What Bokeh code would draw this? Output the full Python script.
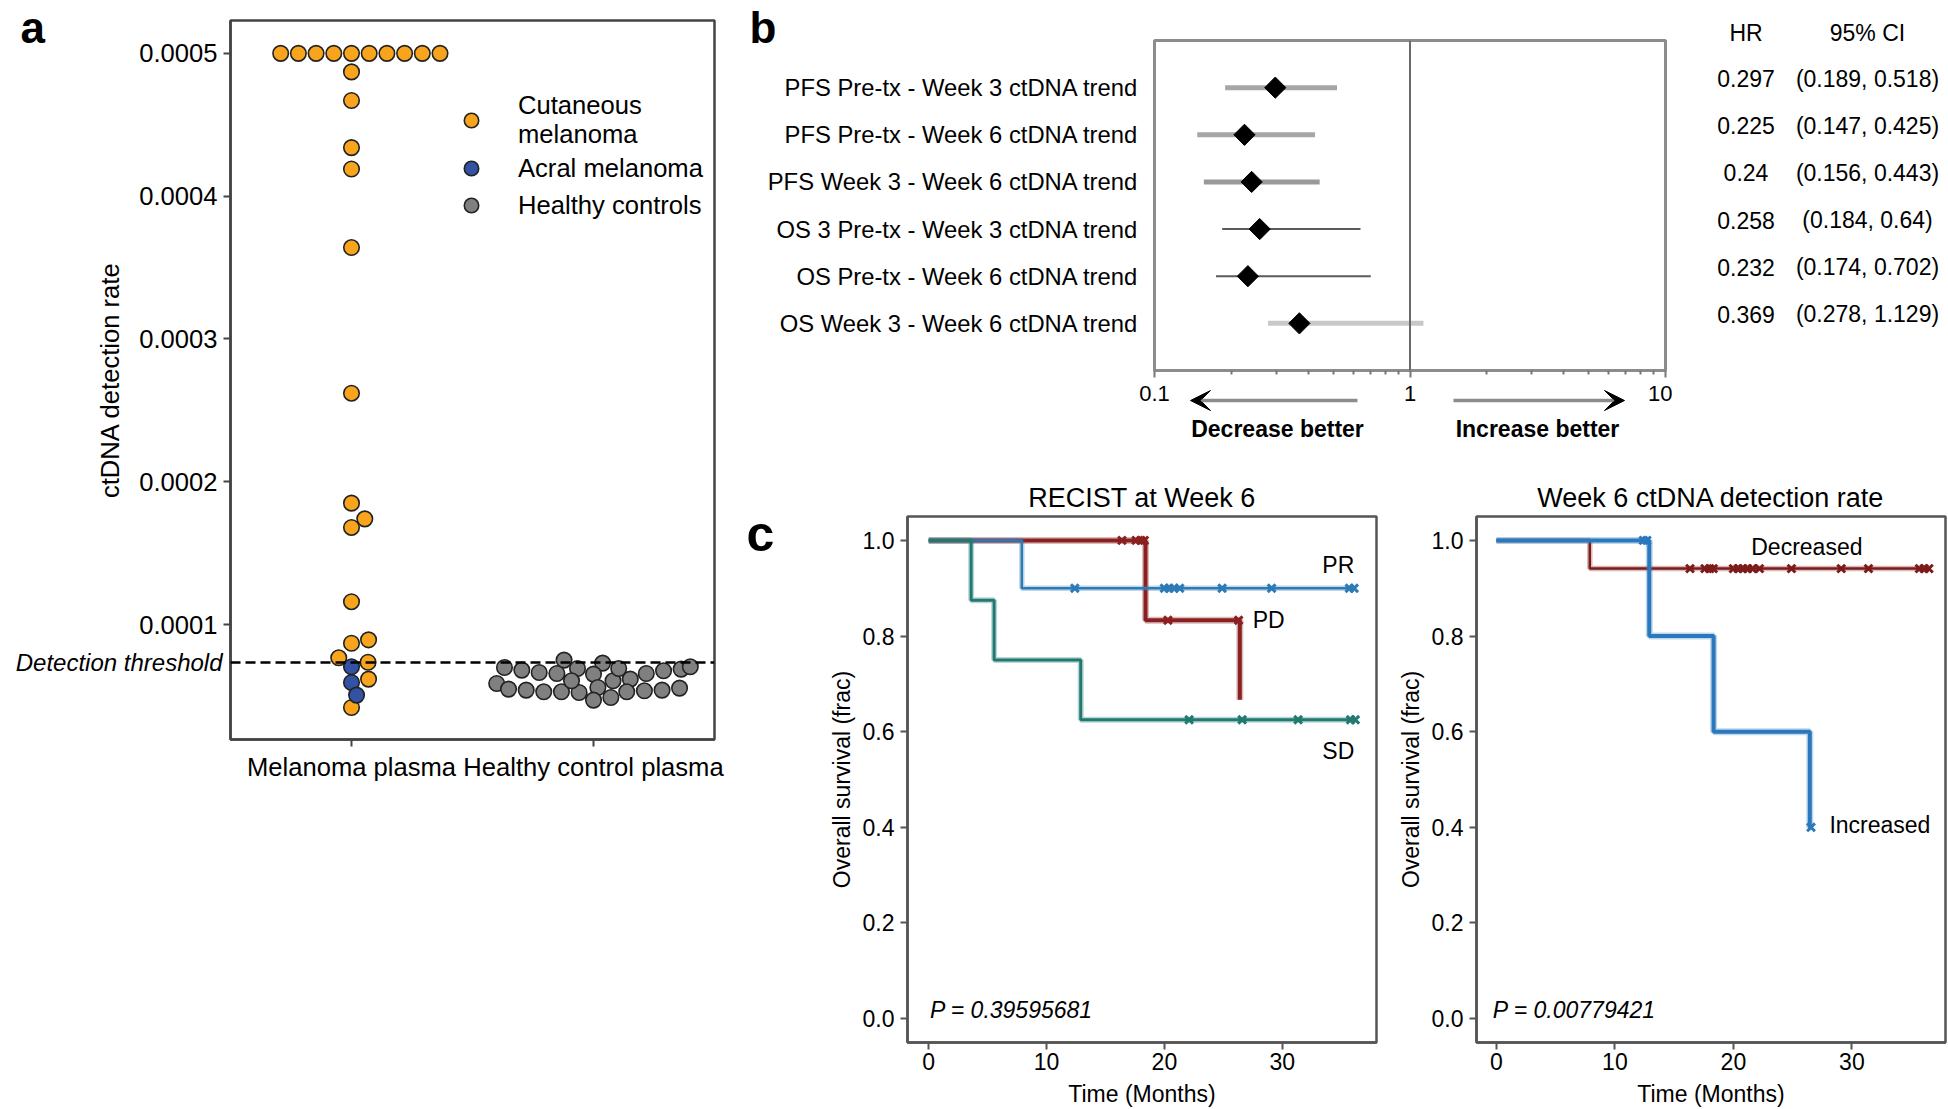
import math
import numpy as np
from bokeh.plotting import figure
from bokeh.layouts import row, column
from bokeh.models import (Range1d, FixedTicker, BasicTickFormatter, PrintfTickFormatter, Span, Label,
                          Legend, LegendItem, Arrow, VeeHead, AllLabels)
from bokeh.core.properties import value
from bokeh.embed import file_html
from bokeh.resources import INLINE

FONT = "Liberation Sans"

# ======================= DATA =======================
# ---- panel a : ctDNA detection rate swarm ----
A_CATEGORIES = ["Melanoma plasma", "Healthy control plasma"]
A_YTICKS = [0.0001, 0.0002, 0.0003, 0.0004, 0.0005]
A_THRESHOLD = 0.0000735
A_YLABEL = "ctDNA detection rate"
A_THRESHOLD_LABEL = "Detection threshold"
A_LEGEND = ["Cutaneous\nmelanoma", "Acral melanoma", "Healthy controls"]
A_CUTANEOUS = [0.0005] * 10 + [0.000487, 0.000467, 0.000434, 0.000419, 0.000364, 0.000262,
                               0.000185, 0.000174, 0.000168, 0.000116, 0.0000893, 0.0000869,
                               0.0000767, 0.0000736, 0.0000618, 0.0000419]
A_ACRAL = [0.0000704, 0.0000594, 0.0000506]
A_HEALTHY = [0.0000751, 0.0000699, 0.0000692, 0.0000676, 0.0000657, 0.0000618, 0.0000730,
             0.0000606, 0.0000653, 0.0000657, 0.0000681, 0.0000688, 0.0000692, 0.0000704,
             0.0000587, 0.0000559, 0.0000541, 0.0000529, 0.0000524, 0.0000489, 0.0000471,
             0.0000529, 0.0000529, 0.0000536, 0.0000541, 0.0000555, 0.0000606, 0.0000664,
             0.0000548]

# ---- panel b : forest plot ----
B_LABELS = ["PFS Pre-tx - Week 3 ctDNA trend", "PFS Pre-tx - Week 6 ctDNA trend",
            "PFS Week 3 - Week 6 ctDNA trend", "OS 3 Pre-tx - Week 3 ctDNA trend",
            "OS Pre-tx - Week 6 ctDNA trend", "OS Week 3 - Week 6 ctDNA trend"]
B_HR = [0.297, 0.225, 0.24, 0.258, 0.232, 0.369]
B_LO = [0.189, 0.147, 0.156, 0.184, 0.174, 0.278]
B_HI = [0.518, 0.425, 0.443, 0.64, 0.702, 1.129]
B_XTICKS = [0.1, 1, 10]
B_XTICK_LABELS = ["0.1", "1", "10"]
B_HEADERS = ["HR", "95% CI"]
B_DIRECTIONS = ["Decrease better", "Increase better"]

# ---- panel c : Kaplan-Meier ----
C_XTICKS = [0, 10, 20, 30]
C_YTICKS = [0.0, 0.2, 0.4, 0.6, 0.8, 1.0]
C_XLABEL = "Time (Months)"
C_YLABEL = "Overall survival (frac)"

C1_TITLE = "RECIST at Week 6"
C1_P = "P = 0.39595681"
PR_EVENT_T = [7.9];               PR_EVENT_S = [0.9]
PR_CENSOR = [12.4, 20.0, 20.4, 20.8, 21.3, 24.9, 29.1, 35.7, 36.1]
PD_EVENT_T = [18.4, 26.4];        PD_EVENT_S = [0.833, 0.667]
PD_CENSOR = [16.4, 17.6, 18.0, 18.3, 20.3, 26.3]
SD_EVENT_T = [3.6, 5.55, 12.9];   SD_EVENT_S = [0.875, 0.75, 0.625]
SD_CENSOR = [22.1, 26.6, 31.35, 35.8, 36.2]

C2_TITLE = "Week 6 ctDNA detection rate"
C2_P = "P = 0.00779421"
DEC_EVENT_T = [7.88];             DEC_EVENT_S = [0.941]
DEC_CENSOR = [16.34, 17.6, 18.0, 18.3, 20.0, 20.4, 20.8, 21.2, 21.6, 22.2, 24.9, 29.1, 31.4,
              35.7, 36.1, 36.5]
INC_EVENT_T = [12.9, 18.33, 26.45]; INC_EVENT_S = [0.8, 0.6, 0.4]
INC_CENSOR = [12.4, 12.7, 26.55]

# ======================= STYLE / LAYOUT =======================
ORANGE, BLUE, GREY = "#F8A51D", "#3352A3", "#808080"
PR_C, PD_C, SD_C = "#2c7bb6", "#8b2020", "#207a72"
DEC_C, INC_C = "#7d1a1a", "#2a78bd"
PAGE_W, PAGE_H = 1948, 1109


def make_fig(left, top, w, h, fr, **kw):
    p = figure(width=w, height=h, output_backend="svg", toolbar_location=None,
               min_border_left=int(round(fr["L"] - left)),
               min_border_right=int(round(left + w - fr["R"])),
               min_border_top=int(round(fr["T"] - top)),
               min_border_bottom=int(round(top + h - fr["B"])), **kw)
    p.xgrid.visible = False
    p.ygrid.visible = False
    p.background_fill_color = "white"
    p.border_fill_color = "white"
    return p


def style_axis(ax, size, color="#444444", label_size=None):
    ax.major_label_text_font = FONT
    ax.major_label_text_font_size = size
    ax.major_label_text_color = "black"
    ax.axis_label_text_font = FONT
    ax.axis_label_text_font_style = "normal"
    ax.axis_label_text_color = "black"
    ax.axis_label_text_font_size = label_size or size
    ax.minor_tick_line_color = None
    ax.major_tick_in = 0
    ax.major_tick_out = 7
    ax.major_tick_line_color = color
    ax.major_tick_line_width = 2
    ax.axis_line_color = color
    ax.axis_line_width = 2.5
    ax.major_label_policy = AllLabels()


def label(p, x, y, text, size, style="normal", align="left", baseline="middle", color="black"):
    p.add_layout(Label(x=x, y=y, text=text, text_font=FONT, text_font_size=size,
                       text_font_style=style, text_align=align, text_baseline=baseline,
                       text_color=color))


def swarm(values, center, ppx, ppy, diam, half_width):
    vals = np.asarray(values, dtype=float)
    order = np.argsort(vals, kind="stable")
    placed = []
    xs = np.zeros(len(vals))
    for idx in order:
        y = vals[idx] * ppy
        neigh = [(nx, ny) for nx, ny in placed if abs(ny - y) < diam]
        cands = [0.0]
        for nx, ny in neigh:
            dx = math.sqrt(max(diam ** 2 - (y - ny) ** 2, 0.0)) * 1.05
            cands += [nx - dx, nx + dx]
        cands.sort(key=lambda c: (abs(c), -c))
        chosen = cands[-1]
        for c in cands:
            if all((c - nx) ** 2 + (y - ny) ** 2 >= diam ** 2 * 0.999 for nx, ny in neigh):
                chosen = c
                break
        placed.append((chosen, y))
        xs[idx] = chosen
    return center + np.clip(xs / ppx, -half_width, half_width)


# ======================= PANEL A =======================
FA = dict(L=230, R=714, T=20, B=739, x0=-0.5, x1=1.5, y0=0.0000195, y1=0.000523)
pa = make_fig(0, 0, 730, 790, FA,
              x_range=Range1d(FA["x0"], FA["x1"]), y_range=Range1d(FA["y0"], FA["y1"]))
pa.outline_line_color = "#444444"
pa.outline_line_width = 2.5

ppx = (FA["R"] - FA["L"]) / (FA["x1"] - FA["x0"])
ppy_a = (FA["B"] - FA["T"]) / (FA["y1"] - FA["y0"])
mel_vals = A_CUTANEOUS + A_ACRAL
mel_x = swarm(mel_vals, 0, ppx, ppy_a * 1.3, 16.86, 0.4)
hc_x = swarm(A_HEALTHY, 1, ppx, ppy_a * 1.3, 16.86, 0.4)
nc = len(A_CUTANEOUS)
pt_kw = dict(size=15.5, line_color="#222222", line_width=1.6)
r_cut = pa.scatter(mel_x[:nc], A_CUTANEOUS, fill_color=ORANGE, **pt_kw)
r_acr = pa.scatter(mel_x[nc:], A_ACRAL, fill_color=BLUE, **pt_kw)
r_hc = pa.scatter(hc_x, A_HEALTHY, fill_color=GREY, **pt_kw)

pa.add_layout(Span(location=A_THRESHOLD, dimension="width", line_color="black",
                   line_width=2.5, line_dash="10 5"))

pa.yaxis.ticker = FixedTicker(ticks=A_YTICKS)
pa.yaxis.formatter = BasicTickFormatter(use_scientific=False, precision=4)
pa.yaxis.axis_label = A_YLABEL
pa.yaxis.axis_label_standoff = 12
pa.xaxis.ticker = FixedTicker(ticks=[0, 1])
pa.xaxis.major_label_overrides = {i: c for i, c in enumerate(A_CATEGORIES)}
for ax in (pa.xaxis[0], pa.yaxis[0]):
    style_axis(ax, "25.6px")
    ax.major_label_standoff = 6

legend = Legend(items=[LegendItem(label=A_LEGEND[0], renderers=[r_cut]),
                       LegendItem(label=A_LEGEND[1], renderers=[r_acr]),
                       LegendItem(label=A_LEGEND[2], renderers=[r_hc])],
                location=(222, 516), padding=0, margin=0, spacing=1,
                glyph_width=38, glyph_height=36, label_standoff=28,
                label_text_font=FONT, label_text_font_size="25.6px",
                label_text_color="black", label_text_line_height=1.2,
                background_fill_alpha=0, border_line_color=None)
pa.add_layout(legend)

# ======================= PANEL B =======================
FB = dict(L=1154, R=1665, T=40, B=370, x0=0.1, x1=10, y0=7, y1=0)
pb = make_fig(730, 0, 942, 458, FB, x_axis_type="log",
              x_range=Range1d(FB["x0"], FB["x1"]), y_range=Range1d(FB["y0"], FB["y1"]))
pb.outline_line_color = "#8c8c8c"
pb.outline_line_width = 3

rows = list(range(1, len(B_LABELS) + 1))
line_colors = ["#a6a6a6", "#a6a6a6", "#999999", "#5a5a5a", "#5a5a5a", "#c8c8c8"]
line_widths = [5, 5, 5, 2, 2, 5]
pb.add_layout(Span(location=1, dimension="height", line_color="#6b6b6b", line_width=2))
pb.segment(x0=B_LO, y0=rows, x1=B_HI, y1=rows, line_color=line_colors, line_width=line_widths)
pb.scatter(B_HR, rows, marker="square", angle=math.pi / 4, size=15,
           fill_color="black", line_color="black")

pb.yaxis.ticker = FixedTicker(ticks=rows)
pb.yaxis.major_label_overrides = {r: l for r, l in zip(rows, B_LABELS)}
style_axis(pb.yaxis[0], "23.8px")
pb.yaxis.major_tick_out = 0
pb.yaxis.axis_line_color = None
pb.yaxis.major_label_standoff = 16

minor = [m * d for d in (0.1, 1) for m in range(2, 10)]
pb.xaxis.ticker = FixedTicker(ticks=B_XTICKS, minor_ticks=minor)
pb.xaxis.major_label_overrides = {t: s for t, s in zip(B_XTICKS, B_XTICK_LABELS)}
style_axis(pb.xaxis[0], "22px", color="#8c8c8c")
pb.xaxis.axis_line_width = 3
pb.xaxis.minor_tick_line_color = "#777777"
pb.xaxis.minor_tick_line_width = 2
pb.xaxis.minor_tick_out = 4
pb.xaxis.minor_tick_in = 0
pb.xaxis.major_tick_line_color = "#777777"
pb.xaxis.major_label_standoff = 8


# ======================= PANEL C =======================
def steps(ev_t, ev_s, censor):
    end = max(list(ev_t) + list(censor))
    return [0.0] + list(ev_t) + [end], [1.0] + list(ev_s) + [ev_s[-1]]


def surv_at(ev_t, ev_s, t):
    s = 1.0
    for tt, ss in zip(ev_t, ev_s):
        if tt <= t:
            s = ss
    return s


def km(p, ev_t, ev_s, censor, color, width):
    xs, ys = steps(ev_t, ev_s, censor)
    p.step(xs, ys, mode="after", line_color=color, line_width=width + 3, line_alpha=0.3)
    p.step(xs, ys, mode="after", line_color=color, line_width=width)
    p.scatter(censor, [surv_at(ev_t, ev_s, t) for t in censor], marker="x", size=11,
              line_color=color, line_width=3)


C_TOP, C_H = 458, 651


def km_fig(left, w, fr, title):
    p = make_fig(left, C_TOP, w, C_H, fr, x_range=Range1d(fr["x0"], fr["x1"]),
                 y_range=Range1d(fr["y0"], fr["y1"]))
    p.outline_line_color = "#555555"
    p.outline_line_width = 2.5
    p.title.text = title
    p.title.align = "center"
    p.title.text_font = FONT
    p.title.text_font_size = "27px"
    p.title.text_font_style = "normal"
    p.title.text_color = "black"
    p.title.standoff = 8
    p.xaxis.ticker = FixedTicker(ticks=C_XTICKS)
    p.yaxis.ticker = FixedTicker(ticks=C_YTICKS)
    p.yaxis.formatter = PrintfTickFormatter(format="%.1f")
    p.xaxis.axis_label = C_XLABEL
    p.yaxis.axis_label = C_YLABEL
    for ax in (p.xaxis[0], p.yaxis[0]):
        style_axis(ax, "23px", color="#555555")
    p.xaxis.major_label_standoff = 3
    p.xaxis.axis_label_standoff = 8
    p.yaxis.major_label_standoff = 6
    p.yaxis.axis_label_standoff = 5
    return p


F1 = dict(L=907, R=1376, T=516, B=1045, x0=-1.8, x1=38.0, y0=-0.05, y1=1.05)
pc1 = km_fig(730, 660, F1, C1_TITLE)
km(pc1, PD_EVENT_T, PD_EVENT_S, PD_CENSOR, PD_C, 4)
km(pc1, PR_EVENT_T, PR_EVENT_S, PR_CENSOR, PR_C, 2.5)
km(pc1, SD_EVENT_T, SD_EVENT_S, SD_CENSOR, SD_C, 3)
label(pc1, 33.4, 0.948, "PR", "23px")
label(pc1, 27.5, 0.834, "PD", "23px")
label(pc1, 33.4, 0.559, "SD", "23px")
label(pc1, 0.1, 0.019, C1_P, "23px", style="italic")

F2 = dict(L=1476, R=1945, T=516, B=1045, x0=-1.68, x1=37.9, y0=-0.05, y1=1.05)
pc2 = km_fig(1390, 558, F2, C2_TITLE)
km(pc2, DEC_EVENT_T, DEC_EVENT_S, DEC_CENSOR, DEC_C, 2.5)
km(pc2, INC_EVENT_T, INC_EVENT_S, INC_CENSOR, INC_C, 4)
label(pc2, 26.2, 0.987, "Decreased", "23px", align="center")
label(pc2, 28.1, 0.404, "Increased", "23px")
label(pc2, -0.3, 0.019, C2_P, "23px", style="italic")

# ============ overlay for text that sits outside the plot frames ============
ov = figure(width=PAGE_W, height=PAGE_H, x_range=Range1d(0, PAGE_W), y_range=Range1d(PAGE_H, 0),
            min_border=0, x_axis_location=None, y_axis_location=None, outline_line_color=None,
            output_backend="svg", toolbar_location=None,
            background_fill_alpha=0, border_fill_alpha=0,
            styles={"position": "absolute", "left": "0px", "top": "0px",
                    "pointer-events": "none"})
ov.xgrid.visible = False
ov.ygrid.visible = False
ov.background_fill_color = None
ov.border_fill_color = None


def otext(xs, ys, texts, size, style="normal", align="left", baseline="middle"):
    ov.text(x=xs, y=ys, text=texts, text_font=value(FONT), text_font_size=size,
            text_font_style=style, text_align=align, text_baseline=baseline, text_color="black")


# panel letters
otext([20, 749], [26.5, 26.5], ["a", "b"], "44px", style="bold")
otext([746], [533], ["c"], "50px", style="bold")
# detection threshold label, placed at the threshold line of panel a
thr_py = FA["B"] - (A_THRESHOLD - FA["y0"]) * ppy_a
otext([222], [thr_py], [A_THRESHOLD_LABEL], "24px", style="italic", align="right")

# forest direction arrows and texts
for x_start, x_end in ((1357, 1190), (1453, 1624)):
    ov.add_layout(Arrow(end=VeeHead(size=20, fill_color="black", line_color="black"),
                        x_start=x_start, y_start=400, x_end=x_end, y_end=400,
                        line_color="#8c8c8c", line_width=3.5))
otext([1277, 1537], [428, 428], B_DIRECTIONS, "23px", style="bold", align="center")

# HR / 95% CI table aligned to the forest rows
row_px = (FB["B"] - FB["T"]) / (FB["y0"] - FB["y1"])
val_py = [FB["T"] + r * row_px - 9 for r in rows]
hr_txt = [str(v) for v in B_HR]
ci_txt = ["({}, {})".format(lo, hi) for lo, hi in zip(B_LO, B_HI)]
otext([1745.5] * len(rows), val_py, hr_txt, "23px", align="center")
otext([1867] * len(rows), val_py, ci_txt, "23px", align="center")
otext([1745.5, 1867], [32.5, 32.5], B_HEADERS, "23px", align="center")

main = row(pa, column(pb, row(pc1, pc2)))
root = row(main, ov, styles={"position": "relative"})
open("out.html", "w").write(file_html(root, INLINE))
